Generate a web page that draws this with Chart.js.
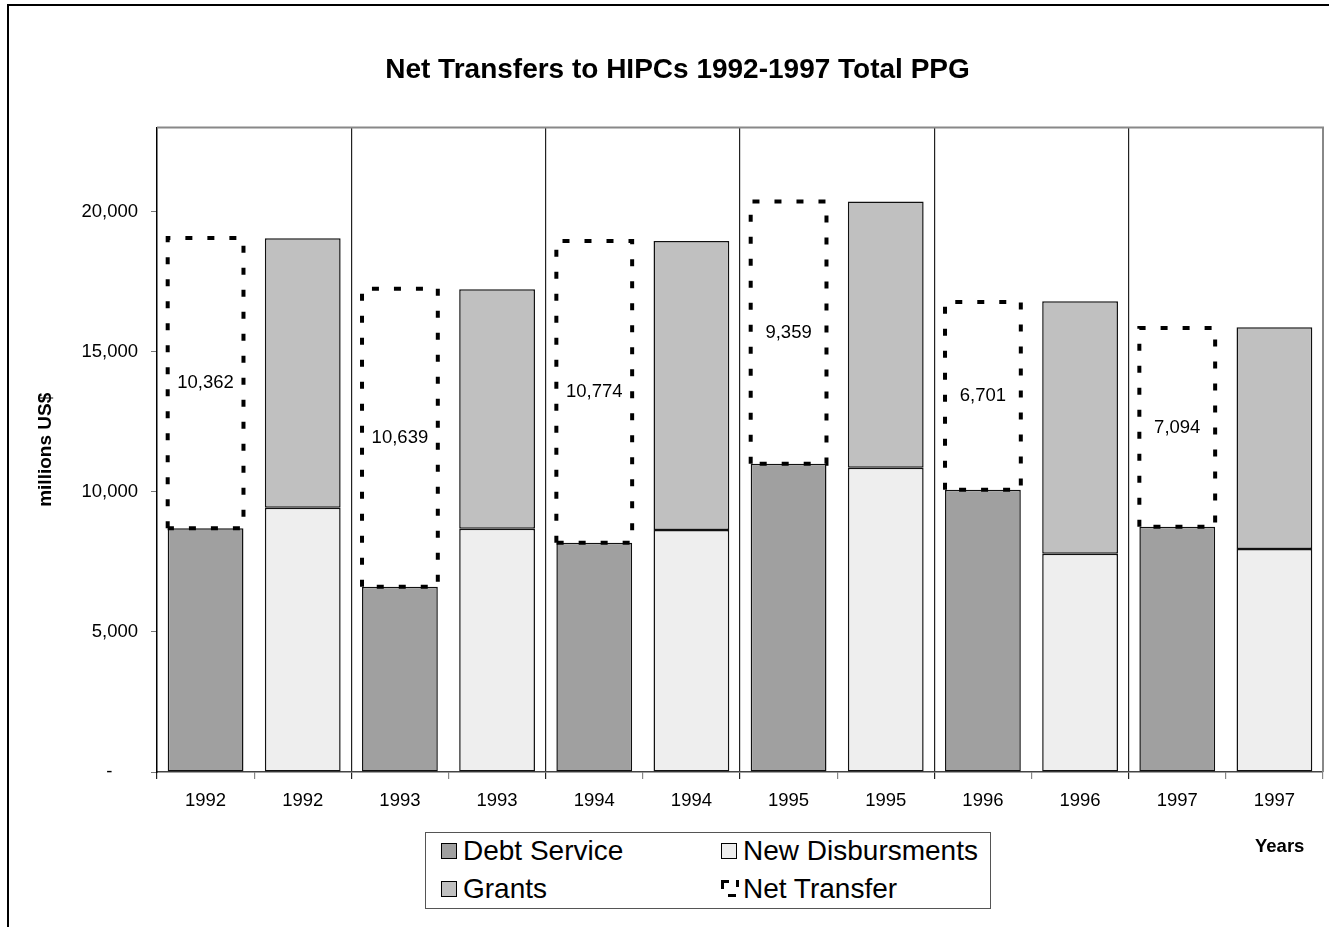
<!DOCTYPE html>
<html>
<head>
<meta charset="utf-8">
<script src="https://cdn.jsdelivr.net/npm/chart.js@4.4.1/dist/chart.umd.min.js"></script>
<style>
  html, body { margin: 0; padding: 0; background: #fff; overflow: hidden; }
  #wrap { position: relative; width: 1329px; height: 927px; font-family: "Liberation Sans", Arial, sans-serif; }
  #frame { position: absolute; left: 7px; top: 4px; width: 1400px; height: 1000px; border-left: 2px solid #000; border-top: 2px solid #000; }
  canvas { position: absolute; left: 0; top: 0; }
  #legend { position: absolute; left: 425px; top: 832px; width: 564px; height: 75px; border: 1px solid #555; background: #fff; }
  .item { position: absolute; font-size: 28px; line-height: 32px; height: 32px; color: #000; white-space: nowrap; }
  .sw { position: absolute; width: 14px; height: 14px; border: 1px solid #000; top: 8px; left: 0; }
  .item span.t { position: absolute; left: 22px; top: 0; }
  .nt { position: absolute; background: #000; }
  #years { position: absolute; left: 1255px; top: 835px; font-size: 18.5px; line-height: 22px; font-weight: bold; }
</style>
</head>
<body>
<div id="wrap">
  <canvas id="c" width="1329" height="927"></canvas>
  <div id="frame"></div>
  <div id="legend">
    <div class="item" style="left:15px; top:2px;"><div class="sw" style="background:#a0a0a0"></div><span class="t">Debt Service</span></div>
    <div class="item" style="left:295px; top:2px;"><div class="sw" style="background:#eeeeee"></div><span class="t">New Disbursments</span></div>
    <div class="item" style="left:15px; top:40px;"><div class="sw" style="background:#c0c0c0"></div><span class="t">Grants</span></div>
    <div class="item" style="left:295px; top:40px;">
      <div class="nt" style="left:0px; top:7px; width:8px; height:3px;"></div>
      <div class="nt" style="left:0px; top:7px; width:3px; height:9px;"></div>
      <div class="nt" style="left:7px; top:21px; width:8px; height:3px;"></div>
      <div class="nt" style="left:15px; top:7px; width:3px; height:7px;"></div>
      <span class="t">Net Transfer</span>
    </div>
  </div>
  <div id="years">Years</div>
</div>
<script>
// ---- data ----
const categories = ['1992','1992','1993','1993','1994','1994','1995','1995','1996','1996','1997','1997'];
const debtService      = [8700, 6610, 8180, 11000, 10070, 8750];   // first bar of each year
const netTransfer      = [10362, 10639, 10774, 9359, 6701, 7094]; // stacked on debt service
const newDisbursments  = [9430, 8680, 8640, 10860, 7790, 7960];    // second bar of each year
const grants           = [9620, 8550, 10310, 9500, 9010, 7910];    // stacked on new disbursments
const yTickValues      = [0, 5000, 10000, 15000, 20000];

// expand year values into the 12 category slots
const slot = (arr, pos) => categories.map((_, i) => (i % 2 === pos ? arr[Math.floor(i / 2)] : null));

const FONT = "'Liberation Sans', Arial, sans-serif";

const dashedNet = {
  id: 'dashedNet',
  afterDatasetsDraw(chart) {
    const ctx = chart.ctx;
    const meta = chart.getDatasetMeta(1);
    ctx.save();
    meta.data.forEach((bar, i) => {
      const v = chart.data.datasets[1].data[i];
      if (v == null) return;
      const { x, y, base, width } = bar.getProps(['x', 'y', 'base', 'width'], true);
      const l = x - width / 2, r = x + width / 2;
      ctx.setLineDash([7, 15]);
      ctx.lineWidth = 4;
      ctx.strokeStyle = '#000';
      ctx.beginPath();
      ctx.moveTo(l, base); ctx.lineTo(l, y); ctx.lineTo(r, y); ctx.lineTo(r, base); ctx.lineTo(l, base);
      ctx.stroke();
      ctx.setLineDash([]);
      ctx.fillStyle = '#000';
      ctx.font = '18.5px ' + FONT;
      ctx.textAlign = 'center';
      ctx.textBaseline = 'middle';
      ctx.fillText(v.toLocaleString('en-US'), x, (y + base) / 2);
    });
    ctx.restore();
  }
};

const plotBorder = {
  id: 'plotBorder',
  afterDraw(chart) {
    const { ctx, chartArea: a } = chart;
    ctx.save();
    ctx.strokeStyle = '#888';
    ctx.lineWidth = 2;
    ctx.beginPath();
    ctx.moveTo(a.left, a.top); ctx.lineTo(a.right, a.top); ctx.lineTo(a.right, a.bottom);
    ctx.stroke();
    ctx.restore();
  }
};

new Chart(document.getElementById('c'), {
  type: 'bar',
  data: {
    labels: categories,
    datasets: [
      { label: 'Debt Service', data: slot(debtService, 0), backgroundColor: '#a0a0a0' },
      { label: 'Net Transfer', data: slot(netTransfer, 0), backgroundColor: 'rgba(0,0,0,0)', borderWidth: 0 },
      { label: 'New Disbursments', data: slot(newDisbursments, 1), backgroundColor: '#eeeeee' },
      { label: 'Grants', data: slot(grants, 1), backgroundColor: '#c0c0c0' }
    ]
  },
  options: {
    responsive: false,
    animation: false,
    layout: { padding: { left: 32, right: 6, top: 0, bottom: 0 } },
    datasets: { bar: { barPercentage: 0.78, categoryPercentage: 1.0, borderColor: '#111', borderWidth: 1.5, borderSkipped: false } },
    plugins: {
      legend: { display: false },
      tooltip: { enabled: false },
      title: {
        display: true,
        text: 'Net Transfers to HIPCs 1992-1997 Total PPG',
        color: '#000',
        font: { family: FONT, size: 28, weight: 'bold' },
        padding: { top: 53, bottom: 41 }
      }
    },
    scales: {
      x: {
        stacked: true,
        afterFit: (axis) => { axis.height = 155; },
        border: { display: true, color: '#444', width: 1.5 },
        grid: {
          offset: true,
          drawOnChartArea: true,
          color: (ctx) => (ctx.index !== undefined && ctx.index > 0 && ctx.index % 2 === 0 ? '#222' : 'rgba(0,0,0,0)'),
          tickColor: (ctx) => (ctx.index !== undefined && ctx.index % 2 === 0 ? '#222' : '#888'),
          tickLength: 7,
          lineWidth: 1.2
        },
        ticks: { color: '#000', font: { family: FONT, size: 18.5 }, padding: 11, maxRotation: 0, autoSkip: false }
      },
      y: {
        stacked: true,
        min: 0,
        max: 23000,
        afterFit: (axis) => { axis.width = 125; },
        afterBuildTicks: (axis) => { axis.ticks = yTickValues.map(v => ({ value: v })); },
        border: { display: true, color: '#000', width: 1.5 },
        grid: { drawOnChartArea: false, tickLength: 6, tickColor: '#777' },
        ticks: {
          color: '#000',
          font: { family: FONT, size: 18.5 },
          padding: 13,
          callback: (v) => (v === 0 ? '-     ' : v.toLocaleString('en-US'))
        },
        title: {
          display: true,
          text: 'millions US$',
          color: '#000',
          font: { family: FONT, size: 19, weight: 'bold' },
          padding: { top: 2, bottom: 0 }
        }
      }
    }
  },
  plugins: [dashedNet, plotBorder]
});
</script>
</body>
</html>
